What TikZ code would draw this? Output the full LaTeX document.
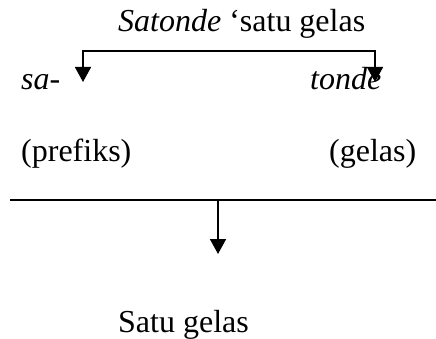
\documentclass[tikz,border=0pt]{standalone}
\usepackage{fontspec}
\setmainfont{Liberation Serif}
\usetikzlibrary{arrows.meta}
\begin{document}
\begin{tikzpicture}[x=1pt,y=-1pt,
  word/.style={anchor=base west,inner sep=0pt,font=\fontsize{32}{38}\selectfont},
  line/.style={line width=1.7pt},
  tip/.style={line width=1.7pt,-{Triangle[width=16pt,length=15pt]}},
  bothtips/.style={line width=1.7pt,{Triangle[width=16pt,length=15pt]}-{Triangle[width=16pt,length=15pt]}}]
  \useasboundingbox (0,0) rectangle (436,339);
  % words
  \node[word] (whole) at (118,32) {\textit{Satonde} ‘satu gelas};
  \node[word] (pre) at (21,90) {\textit{sa-}};
  \node[word] (root) at (310,90) {\textit{tonde}};
  \node[word] (pregl) at (21,162) {(prefiks)};
  \node[word] (rootgl) at (329,162) {(gelas)};
  \node[word] (mean) at (118,332) {Satu gelas};
  % bracket splitting the word into its parts
  \coordinate (ltip) at (83,82);
  \coordinate (ltop) at (83,51);
  \coordinate (rtop) at (375,51);
  \coordinate (rtip) at (375,82);
  \draw[bothtips] (ltip) -- (ltop) -- (rtop) -- (rtip);
  % rule and arrow to the meaning
  \coordinate (rulel) at (10,200);
  \coordinate (ruler) at (436,200);
  \coordinate (mid) at (218,200);
  \coordinate (midtip) at (218,254);
  \draw[line] (rulel) -- (ruler);
  \draw[tip] (mid) -- (midtip);
\end{tikzpicture}
\end{document}
